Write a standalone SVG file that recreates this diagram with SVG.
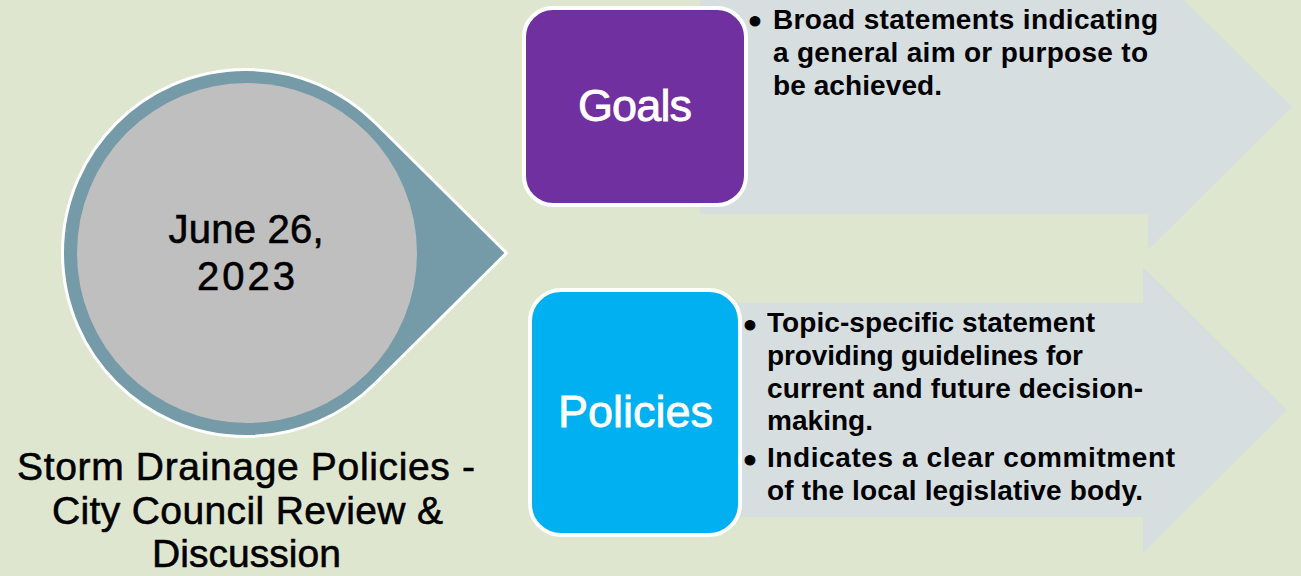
<svg xmlns="http://www.w3.org/2000/svg" width="1301" height="576" viewBox="0 0 1301 576">
  <style>
    .bg { fill: #DFE6D0; }
    .band { fill: #D6DEE0; }
    .title { font-family: "Liberation Sans", Arial, sans-serif; font-size: 39px; fill: #000; stroke: #000; stroke-width: 0.6; text-anchor: middle; }
    .date { font-family: "Liberation Sans", Arial, sans-serif; font-size: 40px; fill: #000; stroke: #000; stroke-width: 0.6; text-anchor: middle; }
    .label { font-family: "Liberation Sans", Arial, sans-serif; font-size: 45px; fill: #fff; stroke: #fff; stroke-width: 0.8; text-anchor: middle; }
    .item { font-family: "Liberation Sans", Arial, sans-serif; font-size: 28px; font-weight: bold; fill: #000; }
    .dot { font-family: "Liberation Sans", Arial, sans-serif; font-size: 34px; font-weight: bold; fill: #000; stroke: #000; stroke-width: 1; text-anchor: middle; }
    .card { stroke: #fff; stroke-width: 4; }
  </style>

  <rect class="bg" x="0" y="0" width="1301" height="576"/>

  <!-- block arrows behind the cards -->
  <g id="connectors">
    <path class="band" d="M700 0 H1148 V-36 L1292 107 L1148 250 V214 H700 Z"/>
    <path class="band" d="M700 303 H1143 V267 L1287 410 L1143 553 V517 H700 Z"/>
  </g>

  <!-- date badge: teardrop pointing right -->
  <g id="date-badge">
    <path d="M375.3 122.8 L506.5 253 L375.3 383.2 A183.5 183.5 0 1 1 375.3 122.8 Z" fill="#769BA8" stroke="#fff" stroke-width="3"/>
    <circle cx="247" cy="253" r="170" fill="#BFBFBF"/>
    <text class="date" x="246" y="243" textLength="155">June 26,</text>
    <text class="date" x="246" y="290" textLength="98">2023</text>
  </g>

  <g id="title">
    <text class="title" x="246" y="480" textLength="458">Storm Drainage Policies -</text>
    <text class="title" x="247.5" y="524" textLength="391">City Council Review &amp;</text>
    <text class="title" x="246.5" y="567" textLength="189">Discussion</text>
  </g>

  <g id="goals">
    <rect class="card" x="524" y="8" width="222" height="197" rx="29" fill="#7030A0"/>
    <text class="label" x="635" y="121" textLength="114">Goals</text>
  </g>

  <g id="goals-text">
    <text class="dot" x="755" y="32">•</text>
    <text class="item" x="773" y="29" textLength="385">Broad statements indicating</text>
    <text class="item" x="773" y="62" textLength="375">a general aim or purpose to</text>
    <text class="item" x="773" y="95" textLength="169">be achieved.</text>
  </g>

  <g id="policies">
    <rect class="card" x="530" y="290" width="210" height="245" rx="31" fill="#00B0F0"/>
    <text class="label" x="635.5" y="427" textLength="155">Policies</text>
  </g>

  <g id="policies-text">
    <text class="dot" x="750" y="336">•</text>
    <text class="item" x="767" y="332" textLength="328">Topic-specific statement</text>
    <text class="item" x="767" y="365" textLength="316">providing guidelines for</text>
    <text class="item" x="767" y="398" textLength="376">current and future decision-</text>
    <text class="item" x="767" y="430" textLength="106">making.</text>
    <text class="dot" x="750" y="471">•</text>
    <text class="item" x="767" y="467" textLength="408">Indicates a clear commitment</text>
    <text class="item" x="767" y="500" textLength="376">of the local legislative body.</text>
  </g>
</svg>
